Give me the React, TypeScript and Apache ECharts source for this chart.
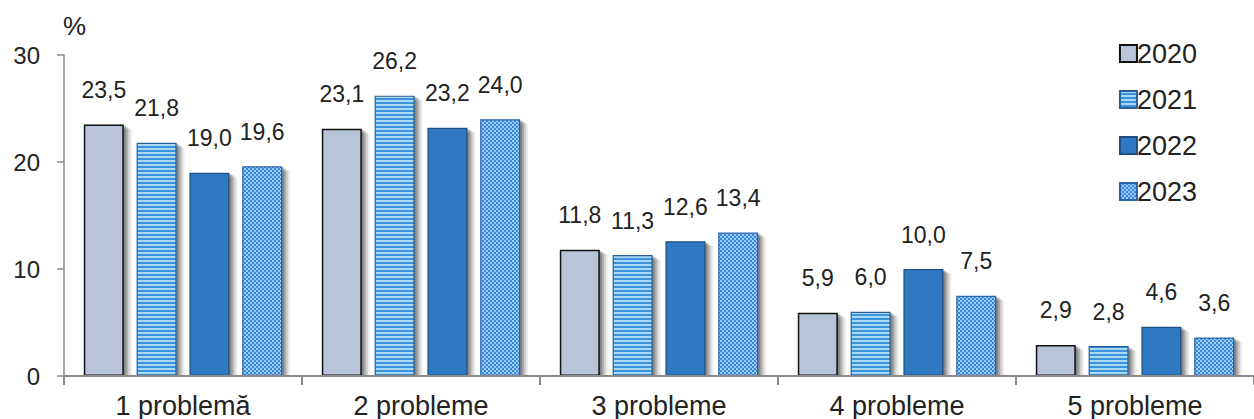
import React, { useEffect, useRef } from "react";
import * as echarts from "echarts";

const categories = ["1 problemă", "2 probleme", "3 probleme", "4 probleme", "5 probleme"];
const years = ["2020", "2021", "2022", "2023"];
const v2020 = [23.5, 23.1, 11.8, 5.9, 2.9];
const v2021 = [21.8, 26.2, 11.3, 6.0, 2.8];
const v2022 = [19.0, 23.2, 12.6, 10.0, 4.6];
const v2023 = [19.6, 24.0, 13.4, 7.5, 3.6];
const yTicks = [0, 10, 20, 30];

function stripeCanvas(light: string, dark: string) {
  const c = document.createElement("canvas");
  c.width = 4;
  c.height = 4;
  const g = c.getContext("2d")!;
  g.fillStyle = light;
  g.fillRect(0, 0, 4, 4);
  g.fillStyle = dark;
  g.fillRect(0, 2, 4, 2);
  return c;
}

function checkerCanvas(light: string, dark: string) {
  const c = document.createElement("canvas");
  c.width = 4;
  c.height = 4;
  const g = c.getContext("2d")!;
  g.fillStyle = dark;
  g.fillRect(0, 0, 4, 4);
  g.fillStyle = light;
  g.fillRect(0, 0, 2, 2);
  g.fillRect(2, 2, 2, 2);
  return c;
}

const BAR_W = 40;
const BAR_GAP = 0.32;

export default function App() {
  const ref = useRef<HTMLDivElement>(null);
  useEffect(() => {
    if (!ref.current) return;
    const chart = echarts.init(ref.current, undefined, { renderer: "svg" });
    const font = "Liberation Sans";
    const fills: any[] = [
      { color: "#b8c4da", borderColor: "#111111", borderWidth: 1.5 },
      {
        color: { image: stripeCanvas("#a9d9f6", "#3a93db"), repeat: "repeat" },
        borderColor: "#2a5f95",
        borderWidth: 1.2,
      },
      { color: "#2f78c2", borderColor: "#1d4f82", borderWidth: 1.2 },
      {
        color: { image: checkerCanvas("#9ccdf4", "#3a86dc"), repeat: "repeat" },
        borderColor: "#2a64a8",
        borderWidth: 1.2,
      },
    ];
    const data = [v2020, v2021, v2022, v2023];
    const n = years.length;
    const step = BAR_W * (1 + BAR_GAP);

    const shadowSeries = years.map((y, i) => ({
      name: "shadow-" + y,
      type: "custom",
      coordinateSystem: "cartesian2d",
      xAxisIndex: 0,
      yAxisIndex: 0,
      z: 1,
      silent: true,
      encode: { x: 0, y: 1 },
      data: data[i].map((v, k) => [k, v]),
      renderItem: (params: any, api: any) => {
        const k = api.value(0);
        const v = api.value(1);
        const base = api.coord([k, 0]);
        const top = api.coord([k, v]);
        const x0 = base[0] + (i - (n - 1) / 2) * step - BAR_W / 2;
        const h = base[1] - top[1];
        const layers = [
          { d: 2, a: 0.22 },
          { d: 4, a: 0.18 },
          { d: 6, a: 0.12 },
          { d: 8, a: 0.07 },
        ];
        return {
          type: "group",
          children: layers.map((l) => ({
            type: "rect",
            shape: { x: x0 + l.d, y: top[1] + l.d * 0.6, width: BAR_W, height: Math.max(0, h - l.d * 0.6) },
            style: { fill: "#000000", opacity: l.a },
          })),
        };
      },
    }));

    chart.setOption({
      animation: false,
      textStyle: { fontFamily: font },
      grid: { left: 64, top: 55, bottom: 43, right: -15, containLabel: false },
      legend: {
        orient: "vertical",
        right: 52,
        top: 35,
        itemWidth: 17,
        itemHeight: 17,
        itemGap: 19,
        icon: "rect",
        textStyle: { fontSize: 27, color: "#222", fontFamily: font, padding: [0, 0, 0, -5] },
        data: years,
      },
      graphic: [
        {
          type: "text",
          left: 63,
          top: 13,
          style: { text: "%", fontSize: 26, fill: "#222", fontFamily: font },
        },
      ],
      xAxis: {
        type: "category",
        data: categories,
        axisLine: { lineStyle: { color: "#8a8a8a", width: 2 } },
        axisTick: { show: true, length: 9, lineStyle: { color: "#8a8a8a", width: 2 } },
        axisLabel: { fontSize: 27, color: "#222", margin: 16, fontFamily: font },
        z: 5,
      },
      yAxis: {
        type: "value",
        min: 0,
        max: 30,
        interval: 10,
        axisLine: { show: true, lineStyle: { color: "#8a8a8a", width: 1.5 } },
        axisTick: { show: true, length: 7, lineStyle: { color: "#8a8a8a", width: 1.5 } },
        splitLine: { show: false },
        axisLabel: {
          fontSize: 24,
          color: "#222",
          margin: 24,
          fontFamily: font,
          formatter: (v: number) => (yTicks.includes(v) ? String(v) : ""),
        },
      },
      series: [
        ...shadowSeries,
        ...years.map((y, i) => ({
          name: y,
          type: "bar",
          z: 3,
          data: data[i],
          barWidth: BAR_W,
          barGap: BAR_GAP * 100 + "%",
          itemStyle: { ...fills[i] },
          label: {
            show: true,
            position: "top",
            distance: 23,
            fontSize: 23,
            color: "#222",
            fontFamily: font,
            formatter: (p: any) => Number(p.value).toFixed(1).replace(".", ","),
          },
        })),
      ],
    });
    return () => chart.dispose();
  }, []);
  return (
    <div
      ref={ref}
      style={{ position: "fixed", left: 0, top: 0, width: 1254, height: 419, background: "#fff" }}
    />
  );
}
